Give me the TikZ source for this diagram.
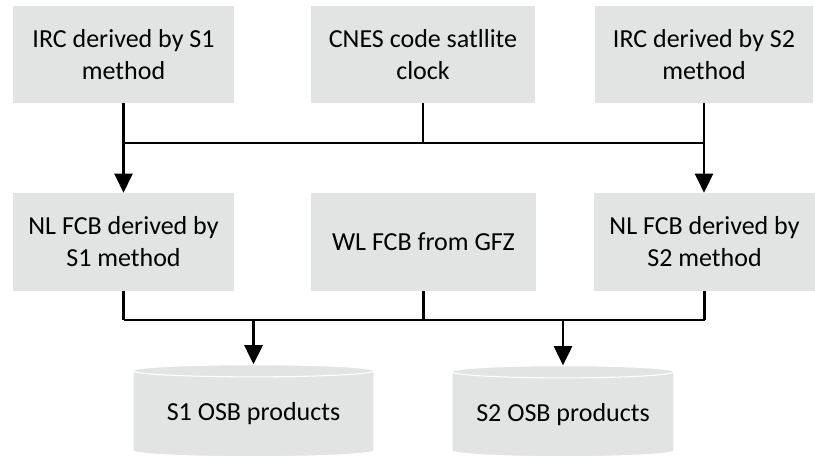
\documentclass[tikz,border=0pt]{standalone}
\usepackage{fontspec}
\setmainfont{Carlito}
\usetikzlibrary{arrows.meta,shapes.geometric}
\definecolor{xam}{RGB}{226,227,227}
\begin{document}
\begin{tikzpicture}[x=0.02cm,y=-0.02cm,>={Triangle[width=0.36cm,length=0.38cm]},
	khung/.style={fill=xam,align=center,inner sep=0pt,font=\fontsize{14.8}{18.2}\selectfont},
	tru/.style={cylinder,shape border rotate=90,aspect=0.07,draw=white,line width=0.6pt,fill=xam,inner sep=0pt,font=\fontsize{14.8}{18.2}\selectfont},
	doc/.style={line width=1.6pt},
	ngang/.style={line width=1.1pt}]
	\useasboundingbox (0,0) rectangle (815,461);
	%Hang 1
	\node[khung,minimum width=4.42cm,minimum height=1.94cm] (irc1) at (123.5,54.5) {IRC derived by S1\\method};
	\node[khung,minimum width=4.48cm,minimum height=1.94cm] (cnes) at (423,54.5) {CNES code satllite\\clock};
	\node[khung,minimum width=4.36cm,minimum height=1.94cm] (irc2) at (704,54.5) {IRC derived by S2\\method};
	%Hang 2
	\node[khung,minimum width=4.42cm,minimum height=1.96cm] (fcb1) at (123.5,242) {NL FCB derived by\\S1 method};
	\node[khung,minimum width=4.5cm,minimum height=1.96cm] (wl) at (423.5,242) {WL FCB from GFZ};
	\node[khung,minimum width=4.42cm,minimum height=1.96cm] (fcb2) at (704.5,242) {NL FCB derived by\\S2 method};
	%San pham
	\node[tru,minimum width=4.82cm,minimum height=1.84cm] (osb1) at (253.5,414) {S1 OSB products};
	\node[tru,minimum width=4.44cm,minimum height=1.82cm] (osb2) at (563,414.5) {S2 OSB products};
	%Diem noi
	\coordinate (noi1) at (0,143);
	\coordinate (noi2) at (0,320);
	%Mui ten hang 1
	\draw[ngang] (irc1.south |- noi1) -- (irc2.south |- noi1);
	\draw[doc,->] (irc1.south) -- (irc1.south |- fcb1.north);
	\draw[doc,->] (irc2.south) -- (irc2.south |- fcb2.north);
	\draw[doc] (cnes.south) -- (cnes.south |- noi1);
	%Mui ten hang 2
	\draw[ngang] (fcb1.south |- noi2) -- (fcb2.south |- noi2);
	\draw[doc] (fcb1.south) -- (fcb1.south |- noi2);
	\draw[doc] (wl.south) -- (wl.south |- noi2);
	\draw[doc] (fcb2.south) -- (fcb2.south |- noi2);
	\draw[doc,->] (osb1.north |- noi2) -- (osb1.north);
	\draw[doc,->] (osb2.north |- noi2) -- (osb2.north);
\end{tikzpicture}
\end{document}
